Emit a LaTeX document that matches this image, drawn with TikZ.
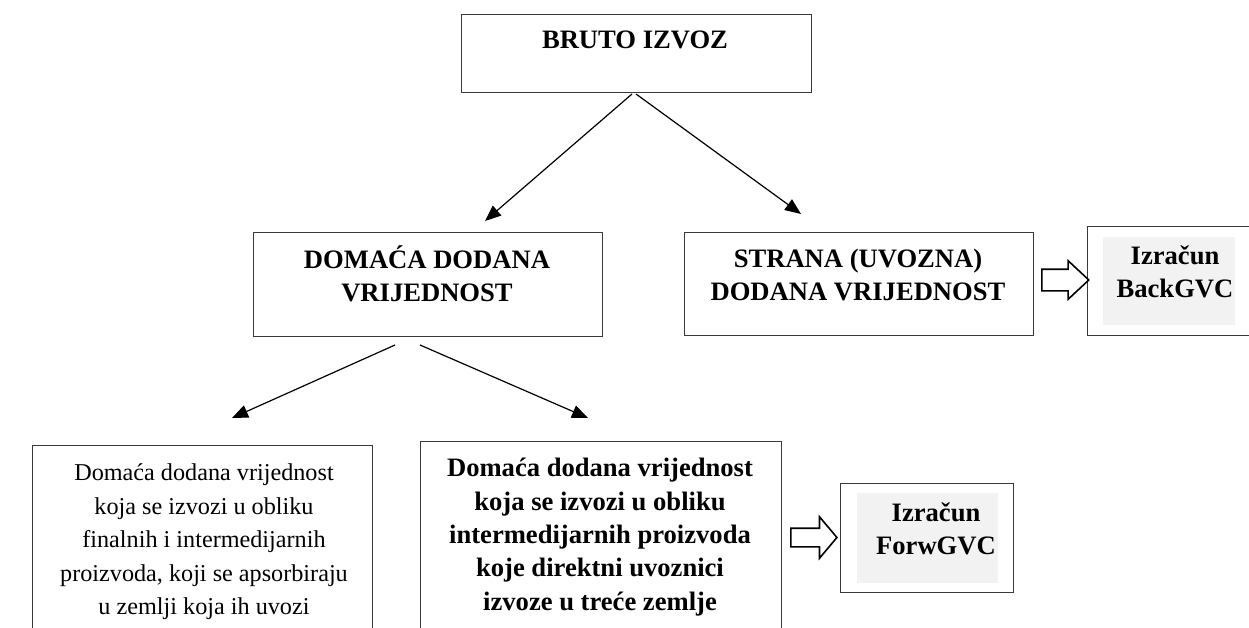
\documentclass[tikz,border=0pt]{standalone}
\usepackage{fontspec}
\setmainfont{Liberation Serif}
\usetikzlibrary{arrows.meta,shapes.arrows}
\definecolor{boxline}{HTML}{3A3A3A}
\definecolor{calcfill}{HTML}{F2F2F2}
\tikzset{
  box/.style={draw=boxline, line width=1.4pt, anchor=north west, inner sep=0pt},
  calc/.style={fill=calcfill, anchor=north west, inner sep=0pt},
  txt/.style={align=center, inner sep=0pt, font=\fontsize{24.2}{33.5}\selectfont},
  btxt/.style={align=center, inner sep=0pt, font=\fontsize{26.6}{33.4}\selectfont\bfseries},
  conn/.style={line width=1.2pt, -{Triangle[length=16pt,width=13pt]}},
  blockarrow/.style={draw=black, line width=1.6pt, single arrow, inner sep=0pt,
     text height=0pt, text depth=0pt, text width=0pt, anchor=center}
}
\begin{document}
\begin{tikzpicture}[x=1pt,y=-1pt]
\useasboundingbox (0,0) rectangle (1249,628);
% boxes
\node[box, minimum width=350, minimum height=78] (bruto) at (461,14) {};
\node[btxt, anchor=base] (brutot) at (635,49) {BRUTO IZVOZ};
\node[box, minimum width=349, minimum height=104] (dom) at (253,232) {};
\node[btxt] (domt) at (427,274) {DOMAĆA DODANA\\VRIJEDNOST};
\node[box, minimum width=349, minimum height=103] (str) at (684,232) {};
\node[btxt] (strt) at (858,275) {STRANA (UVOZNA)\\DODANA VRIJEDNOST};
% BackGVC
\node[box, minimum width=180, minimum height=109] (back) at (1087,226) {};
\node[calc, minimum width=132, minimum height=88] (backfill) at (1103,237) {};
\node[btxt] (backt) at (1175,272) {Izračun\\BackGVC};
% bottom boxes
\node[box, minimum width=340, minimum height=200] (fin) at (32,445) {};
\node[txt] (fint) at (204,542) {Domaća dodana vrijednost\\koja se izvozi u obliku\\finalnih i intermedijarnih\\proizvoda, koji se apsorbiraju\\u zemlji koja ih uvozi};
\node[box, minimum width=361, minimum height=200] (int) at (420,441) {};
\node[btxt] (intt) at (600,537) {Domaća dodana vrijednost\\koja se izvozi u obliku\\intermedijarnih proizvoda\\koje direktni uvoznici\\izvoze u treće zemlje};
% ForwGVC
\node[box, minimum width=173, minimum height=109] (forw) at (840,483) {};
\node[calc, minimum width=141, minimum height=90] (forwfill) at (857,493) {};
\node[btxt] (forwt) at (936,529) {Izračun\\ForwGVC};
% connectors
\coordinate (b1) at (632,94);
\coordinate (b2) at (636,94);
\coordinate (d1) at (485,221);
\coordinate (s1) at (801,214);
\draw[conn] (b1) -- (d1);
\draw[conn] (b2) -- (s1);
\coordinate (m1) at (395,345);
\coordinate (m2) at (420,345);
\coordinate (f1) at (232,418);
\coordinate (i1) at (588,418);
\draw[conn] (m1) -- (f1);
\draw[conn] (m2) -- (i1);
% block arrows
\node[blockarrow, minimum height=47pt, inner ysep=10pt, single arrow head extend=8.5pt,
      single arrow tip angle=86] (ba1) at (1059.5,280) {};
\node[blockarrow, minimum height=46pt, inner ysep=8.5pt, single arrow head extend=11.5pt,
      single arrow tip angle=100] (ba2) at (810,537.5) {};
\end{tikzpicture}
\end{document}
